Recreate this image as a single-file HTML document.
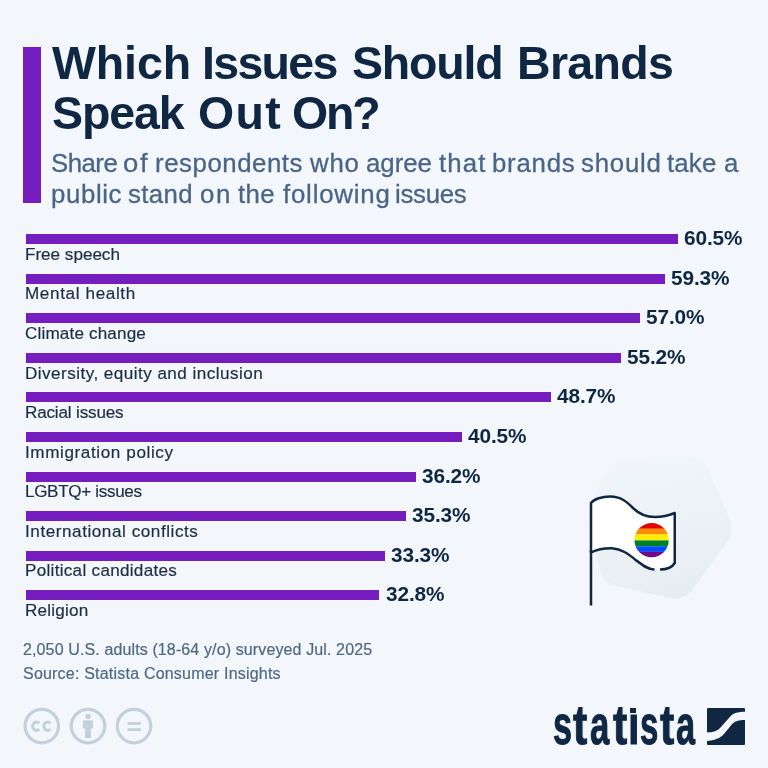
<!DOCTYPE html>
<html><head><meta charset="utf-8"><style>
*{margin:0;padding:0;box-sizing:border-box}
html,body{width:768px;height:768px;overflow:hidden;background:#f3f7fb}
body{position:relative;font-family:"Liberation Sans",sans-serif}
.a{position:absolute;white-space:nowrap;line-height:1;will-change:transform}
.ti{font-weight:bold;color:#0f2743}
.su{color:#4a6587;-webkit-text-stroke:0.3px #4a6587}
.lb{color:#1c2e45;-webkit-text-stroke:0.2px #1c2e45}
.vl{font-weight:bold;font-size:20.8px;letter-spacing:-0.1px;color:#0f2743}
.ft{color:#4f6886;-webkit-text-stroke:0.2px #4f6886}
.bar{position:absolute;height:10px;background:#761dbf}
</style></head><body>
<div style="position:absolute;left:23px;top:47px;width:18px;height:156px;background:#761dbf"></div>
<div class="a ti" style="left:51.50px;top:39.84px;font-size:46.5px;letter-spacing:-0.100px;">Which</div>
<div class="a ti" style="left:202.20px;top:39.84px;font-size:46.5px;letter-spacing:-1.700px;">Issues</div>
<div class="a ti" style="left:351.50px;top:39.84px;font-size:46.5px;letter-spacing:-1.180px;">Should</div>
<div class="a ti" style="left:516.70px;top:39.84px;font-size:46.5px;letter-spacing:-0.660px;">Brands</div>
<div class="a ti" style="left:51.80px;top:90.14px;font-size:46.5px;letter-spacing:-1.125px;">Speak</div>
<div class="a ti" style="left:197.90px;top:90.14px;font-size:46.5px;letter-spacing:1.350px;">Out</div>
<div class="a ti" style="left:292.20px;top:90.14px;font-size:46.5px;letter-spacing:-2.100px;">On?</div>
<div class="a su" style="left:50.50px;top:151.26px;font-size:25.8px;letter-spacing:-0.525px;">Share</div>
<div class="a su" style="left:123.34px;top:151.26px;font-size:25.8px;letter-spacing:1.600px;transform:scaleX(1.0633);transform-origin:0 0;">of</div>
<div class="a su" style="left:154.50px;top:151.26px;font-size:25.8px;letter-spacing:0.550px;">respondents</div>
<div class="a su" style="left:310.40px;top:151.26px;font-size:25.8px;letter-spacing:0.800px;">who</div>
<div class="a su" style="left:366.20px;top:151.26px;font-size:25.8px;letter-spacing:-0.025px;">agree</div>
<div class="a su" style="left:439.30px;top:151.26px;font-size:25.8px;letter-spacing:1.099px;">that</div>
<div class="a su" style="left:491.50px;top:151.26px;font-size:25.8px;letter-spacing:0.750px;">brands</div>
<div class="a su" style="left:581.00px;top:151.26px;font-size:25.8px;letter-spacing:0.780px;">should</div>
<div class="a su" style="left:667.10px;top:151.26px;font-size:25.8px;letter-spacing:0.167px;">take</div>
<div class="a su" style="left:723.60px;top:151.26px;font-size:25.8px;letter-spacing:0.000px;">a</div>
<div class="a su" style="left:50.80px;top:181.76px;font-size:25.8px;letter-spacing:0.620px;">public</div>
<div class="a su" style="left:127.90px;top:181.76px;font-size:25.8px;letter-spacing:0.375px;">stand</div>
<div class="a su" style="left:199.70px;top:181.76px;font-size:25.8px;letter-spacing:1.600px;transform:scaleX(1.0000);transform-origin:0 0;">on</div>
<div class="a su" style="left:237.50px;top:181.76px;font-size:25.8px;letter-spacing:0.350px;">the</div>
<div class="a su" style="left:282.70px;top:181.76px;font-size:25.8px;letter-spacing:0.800px;">following</div>
<div class="a su" style="left:394.50px;top:181.76px;font-size:25.8px;letter-spacing:-0.300px;">issues</div>
<div class="a lb" style="left:24.90px;top:245.82px;font-size:17.1px;letter-spacing:-0.010px;">Free speech</div>
<div class="a lb" style="left:24.90px;top:285.39px;font-size:17.1px;letter-spacing:0.634px;">Mental health</div>
<div class="a lb" style="left:24.90px;top:324.96px;font-size:17.1px;letter-spacing:0.162px;">Climate change</div>
<div class="a lb" style="left:24.90px;top:364.53px;font-size:17.1px;letter-spacing:0.460px;">Diversity, equity and inclusion</div>
<div class="a lb" style="left:24.90px;top:404.10px;font-size:17.1px;letter-spacing:-0.175px;">Racial issues</div>
<div class="a lb" style="left:24.90px;top:443.67px;font-size:17.1px;letter-spacing:0.606px;">Immigration policy</div>
<div class="a lb" style="left:24.90px;top:483.24px;font-size:17.1px;letter-spacing:-0.342px;">LGBTQ+ issues</div>
<div class="a lb" style="left:24.90px;top:522.81px;font-size:17.1px;letter-spacing:0.560px;">International conflicts</div>
<div class="a lb" style="left:24.90px;top:562.38px;font-size:17.1px;letter-spacing:0.289px;">Political candidates</div>
<div class="a lb" style="left:24.90px;top:601.95px;font-size:17.1px;letter-spacing:0.199px;">Religion</div>
<div class="a ft" style="left:22.90px;top:641.56px;font-size:16px;letter-spacing:0.123px;">2,050 U.S. adults (18-64 y/o) surveyed Jul. 2025</div>
<div class="a ft" style="left:22.90px;top:666.06px;font-size:16px;letter-spacing:0.206px;">Source: Statista Consumer Insights</div>
<div class="bar" style="left:25.8px;top:234.20px;width:651.89px"></div>
<div class="a vl" style="left:683.99px;top:228.14px">60.5%</div>
<div class="bar" style="left:25.8px;top:273.77px;width:638.96px"></div>
<div class="a vl" style="left:671.06px;top:267.71px">59.3%</div>
<div class="bar" style="left:25.8px;top:313.34px;width:614.18px"></div>
<div class="a vl" style="left:646.27px;top:307.28px">57.0%</div>
<div class="bar" style="left:25.8px;top:352.91px;width:594.78px"></div>
<div class="a vl" style="left:626.88px;top:346.85px">55.2%</div>
<div class="bar" style="left:25.8px;top:392.48px;width:524.74px"></div>
<div class="a vl" style="left:556.84px;top:386.42px">48.7%</div>
<div class="bar" style="left:25.8px;top:432.05px;width:436.39px"></div>
<div class="a vl" style="left:468.49px;top:425.99px">40.5%</div>
<div class="bar" style="left:25.8px;top:471.62px;width:390.06px"></div>
<div class="a vl" style="left:422.16px;top:465.56px">36.2%</div>
<div class="bar" style="left:25.8px;top:511.19px;width:380.36px"></div>
<div class="a vl" style="left:412.46px;top:505.13px">35.3%</div>
<div class="bar" style="left:25.8px;top:550.76px;width:358.81px"></div>
<div class="a vl" style="left:390.91px;top:544.70px">33.3%</div>
<div class="bar" style="left:25.8px;top:590.33px;width:353.42px"></div>
<div class="a vl" style="left:385.52px;top:584.27px">32.8%</div>
<svg style="position:absolute;left:0;top:0" width="768" height="768" viewBox="0 0 768 768">
<g fill="none" stroke="#c5d1da" stroke-width="3.2">
<circle cx="41.8" cy="726.1" r="16.75"/>
<circle cx="88" cy="726.1" r="16.75"/>
<circle cx="134" cy="726.1" r="16.75"/>
</g>
<path fill="none" stroke="#c5d1da" stroke-width="3.1" d="M39.19,723.39 A3.75,4.2 0 1 0 39.19,729.01 M50.39,723.39 A3.75,4.2 0 1 0 50.39,729.01"/>
<g fill="#c5d1da">
<circle cx="88.05" cy="716.5" r="2.7"/>
<rect x="82.9" y="720.2" width="10.1" height="8.4" rx="0.8"/>
<rect x="85" y="728" width="6" height="10"/>
<rect x="127.6" y="722.1" width="13.2" height="2.8"/>
<rect x="127.6" y="728.2" width="13.2" height="2.8"/>
</g>
</svg>
<div class="a" style="left:552.76px;top:698.24px;font-size:55px;font-weight:bold;color:#0f2743;-webkit-text-stroke:1px #0f2743;transform:scaleX(0.622);transform-origin:0 0">s</div>
<div class="a" style="left:573.40px;top:698.24px;font-size:55px;font-weight:bold;color:#0f2743;-webkit-text-stroke:1px #0f2743;transform:scaleX(0.783);transform-origin:0 0">t</div>
<div class="a" style="left:590.37px;top:698.24px;font-size:55px;font-weight:bold;color:#0f2743;-webkit-text-stroke:1px #0f2743;transform:scaleX(0.633);transform-origin:0 0">a</div>
<div class="a" style="left:612.50px;top:698.24px;font-size:55px;font-weight:bold;color:#0f2743;-webkit-text-stroke:1px #0f2743;transform:scaleX(0.783);transform-origin:0 0">t</div>
<div class="a" style="left:627.63px;top:698.24px;font-size:55px;font-weight:bold;color:#0f2743;-webkit-text-stroke:1px #0f2743;transform:scaleX(0.756);transform-origin:0 0">ı</div>
<div class="a" style="left:640.21px;top:698.24px;font-size:55px;font-weight:bold;color:#0f2743;-webkit-text-stroke:1px #0f2743;transform:scaleX(0.596);transform-origin:0 0">s</div>
<div class="a" style="left:660.10px;top:698.24px;font-size:55px;font-weight:bold;color:#0f2743;-webkit-text-stroke:1px #0f2743;transform:scaleX(0.783);transform-origin:0 0">t</div>
<div class="a" style="left:676.18px;top:698.24px;font-size:55px;font-weight:bold;color:#0f2743;-webkit-text-stroke:1px #0f2743;transform:scaleX(0.623);transform-origin:0 0">a</div>
<div style="position:absolute;left:629.9px;top:708.1px;width:6.5px;height:4.6px;background:#0f2743"></div>
<svg style="position:absolute;left:707px;top:708px" width="38" height="37" viewBox="0 0 38 37">
<path fill="#0f2743" d="M1,0 H37 Q38,0 38,1 V3.8 C31,3.8 26.05,5.3 23.5,8.2 L13.3,19.8 C10.75,22.7 6,24.5 0,24.5 V1 Q0,0 1,0 Z"/>
<path fill="#0f2743" d="M38,12 V36 Q38,37 37,37 H1 Q0,37 0,36 V33 C7,33 13.95,29.7 16.5,26.6 L25,16.2 C27.55,13.1 32,12 38,12 Z"/>
</svg>
<svg style="position:absolute;left:0;top:0" width="768" height="768" viewBox="0 0 768 768">
<defs>
<linearGradient id="hg" gradientUnits="userSpaceOnUse" x1="640" y1="455" x2="680" y2="602">
<stop offset="0" stop-color="#f2f6fa"/><stop offset="0.35" stop-color="#edf2f6"/><stop offset="1" stop-color="#e6edf1"/>
</linearGradient>
<clipPath id="rc"><circle cx="651.6" cy="540.2" r="17.1"/></clipPath>
</defs>
<path fill="url(#hg)" d="M606.8,469.6 Q613,457 627.0,457.0 L689.0,457.0 Q703,457 708.6,469.8 L729.4,518.2 Q735,531 726.8,542.3 L692.2,589.7 Q684,601 670.3,598.0 L616.7,586.0 Q603,583 599.7,569.4 L589.3,525.6 Q586,512 592.2,499.4 Z"/>
<path fill="#ffffff" d="M591,552.5 V503 C594,499 602,496.5 610,496.5 C621,496.5 627,502 633,508 C639,514 646,517 655,517 C663,517 670,515 674.75,513 V563 C672,567.5 666,569.5 660,569.5 L654.5,569.5 C647,569.5 641,564 635,559.4 C629,554.5 622,549 612,548.2 C603,548 596,550 591,552.5 Z"/>
<g clip-path="url(#rc)">
<rect x="634" y="522" width="36" height="6.8" fill="#e40303"/>
<rect x="634" y="528.75" width="36" height="5.7" fill="#ff8c00"/>
<rect x="634" y="534.4" width="36" height="6" fill="#ffed00"/>
<rect x="634" y="540.4" width="36" height="5.85" fill="#008026"/>
<rect x="634" y="546.25" width="36" height="5.65" fill="#004dff"/>
<rect x="634" y="551.9" width="36" height="7" fill="#750787"/>
</g>
<g fill="none" stroke="#0f2743" stroke-width="2.5" stroke-linejoin="round">
<path d="M591,552.5 V503 C594,499 602,496.5 610,496.5 C621,496.5 627,502 633,508 C639,514 646,517 655,517 C663,517 670,515 674.75,513 V563 C672,567.5 666,569.5 660,569.5"/>
<path d="M654.5,569.5 C647,569.5 641,564 635,559.4 C629,554.5 622,549 612,548.2 C603,548 596,550 591,552.5"/>
<line x1="591" y1="550" x2="591" y2="605.5"/>
</g>
</svg>
</body></html>
